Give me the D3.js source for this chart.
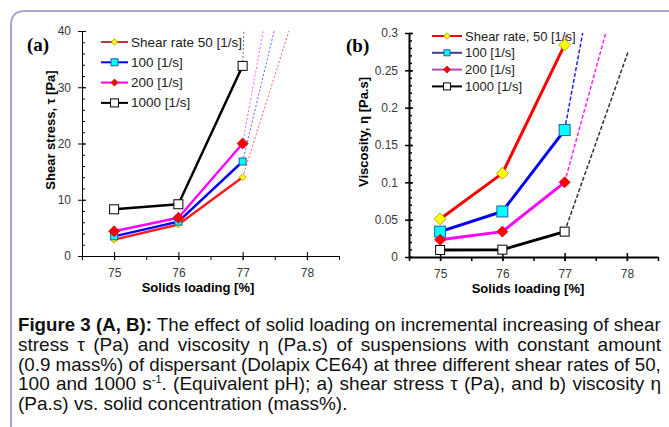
<!DOCTYPE html>
<html>
<head>
<meta charset="utf-8">
<script src="https://cdn.jsdelivr.net/npm/d3@7"></script>
<style>
  body { margin: 0; background: #fff; }
  svg { display: block; }
  text { font-family: "Liberation Sans", Arial, sans-serif; }
</style>
</head>
<body>
<svg id="chart" width="669" height="427"></svg>
<script>
// solids loading [%]
const loading = [75, 76, 77];
const rates = ["50", "100", "200", "1000"];

// (a) shear stress [Pa]
const stress50 = [2.9, 5.6, 14.0];
const stress100 = [3.5, 6.1, 16.8];
const stress200 = [4.4, 6.8, 20.0];
const stress1000 = [8.3, 9.2, 33.8];
// extrapolated end points [loading, stress]
const stressExt = [[77.72, 40], [77.49, 40], [77.32, 40], [77.02, 40]];

// (b) viscosity [Pa.s]
const visc50 = [0.051, 0.112, 0.284];
const visc100 = [0.034, 0.061, 0.170];
const visc200 = [0.023, 0.034, 0.100];
const visc1000 = [0.0094, 0.0098, 0.034];
const viscExt = [[77.03, 0.3], [77.29, 0.3], [77.66, 0.3], [78.02, 0.275]];

const legendA = ["Shear rate 50 [1/s]", "100 [1/s]", "200 [1/s]", "1000 [1/s]"];
const legendB = ["Shear rate, 50 [1/s]", "100 [1/s]", "200 [1/s]", "1000 [1/s]"];

const xTicks = [75, 76, 77, 78];
const yTicksA = [0, 10, 20, 30, 40];
const yTicksB = [0, 0.05, 0.1, 0.15, 0.2, 0.25, 0.3];

const caption = [
  [["Figure 3 (A, B):", true], [" The effect of solid loading on incremental increasing of shear", false]],
  [["stress \u03c4 (Pa) and viscosity \u03b7 (Pa.s) of suspensions with constant amount", false]],
  [["(0.9 mass%) of dispersant (Dolapix CE64) at three different shear rates of 50,", false]],
  [["100 and 1000 s", false], ["-1", "sup"], [". (Equivalent pH); a) shear stress \u03c4 (Pa), and b) viscosity \u03b7", false]],
  [["(Pa.s) vs. solid concentration (mass%).", false]]
];

const svg = d3.select("#chart");

// frame
svg.append("path")
  .attr("d", "M11,427 L11,25 Q11,11 25,11 L669,11")
  .attr("fill", "none")
  .attr("stroke", "#aaa7cd")
  .attr("stroke-width", 2);

const panels = [
  {
    tag: "(a)", tagX: 27, tagY: 51,
    x: d3.scaleLinear().domain([74.5, 78.5]).range([82, 339]),
    y: d3.scaleLinear().domain([0, 40]).range([256, 31]),
    yTicks: yTicksA, yMinor: d3.range(0, 41, 2), yFmt: d3.format("d"),
    yTitle: "Shear stress, \u03c4 [Pa]", yTitleX: 50, yTitleY: 130,
    xTitleX: 198, axisW: 1,
    series: [stress50, stress100, stress200, stress1000], ext: stressExt,
    lineColors: ["#ff1a1a", "#0000ff", "#ff00ff", "#000000"],
    legColors: ["#b23a3a", "#0000ff", "#ff00ff", "#000000"],
    extColors: ["#ff6060", "#6060ff", "#ff60ff", "#666666"],
    extDash: "2,2", extW: 1,
    sizes: [3.5, 7, 5.5, 9], legSizes: [3.2, 7, 3.5, 8],
    legend: legendA, legX: 101, legY: 42, legStep: 20.3, legLen: 27, legFont: 13.5,
    lineW: 2.4
  },
  {
    tag: "(b)", tagX: 346, tagY: 52,
    x: d3.scaleLinear().domain([74.5, 78.5]).range([409, 658]),
    y: d3.scaleLinear().domain([0, 0.3]).range([257, 33]),
    yTicks: yTicksB, yMinor: d3.range(0, 0.301, 0.01), yFmt: d => d === 0 ? "0" : String(+d.toFixed(2)),
    yTitle: "Viscosity, \u03b7 [Pa.s]", yTitleX: 363, yTitleY: 132,
    xTitleX: 528, axisW: 2,
    series: [visc50, visc100, visc200, visc1000], ext: viscExt,
    lineColors: ["#ff0000", "#0000ff", "#ff00ff", "#000000"],
    legColors: ["#ff0000", "#3c3c96", "#b24ab2", "#000000"],
    extColors: ["#ff4040", "#2020ff", "#ff20ff", "#333333"],
    extDash: "4,2", extW: 1.5,
    sizes: [6, 11, 5.5, 9], legSizes: [3.2, 6, 3.5, 7],
    legend: legendB, legX: 432, legY: 36, legStep: 16.8, legLen: 30, legFont: 13,
    lineW: 3
  }
];

const fills = ["#ffff00", "#00ffff", "#ff0000", "#ffffff"];
const strokes = ["#999900", "#2060a0", "#cc0000", "#000000"];
const shapes = ["diamond", "square", "diamond", "square"];

function marker(g, shape, cx, cy, s, fill, stroke) {
  if (shape === "square") {
    g.append("rect")
      .attr("x", cx - s / 2).attr("y", cy - s / 2)
      .attr("width", s).attr("height", s)
      .attr("fill", fill).attr("stroke", stroke).attr("stroke-width", 1);
  } else {
    g.append("path")
      .attr("d", `M${cx},${cy - s}L${cx + s},${cy}L${cx},${cy + s}L${cx - s},${cy}Z`)
      .attr("fill", fill).attr("stroke", stroke).attr("stroke-width", 0.8);
  }
}

panels.forEach(p => {
  const g = svg.append("g");
  const [x0] = p.x.range();
  const yb = p.y.range()[0];
  const tickW = p.axisW === 2 ? 1.5 : 1;

  // tag
  g.append("text")
    .attr("x", p.tagX).attr("y", p.tagY)
    .style("font-family", "'Liberation Serif', 'Times New Roman', serif")
    .style("font-weight", "bold").style("font-size", "19px")
    .text(p.tag);

  // y axis minor ticks (inside)
  g.append("g")
    .attr("transform", `translate(${x0},0)`)
    .call(d3.axisRight(p.y).tickValues(p.yMinor).tickSize(3).tickSizeOuter(0).tickFormat(""))
    .call(a => a.select(".domain").remove())
    .call(a => a.selectAll("line").attr("stroke-width", tickW));

  // y axis major
  g.append("g")
    .attr("transform", `translate(${x0},0)`)
    .call(d3.axisLeft(p.y).tickValues(p.yTicks).tickSizeInner(4).tickSizeOuter(0).tickPadding(7).tickFormat(p.yFmt))
    .call(a => a.select(".domain").attr("stroke-width", p.axisW))
    .call(a => a.selectAll(".tick line").attr("x1", 4).attr("stroke-width", tickW))
    .call(a => a.selectAll("text").attr("fill", "#3a3a3a")
      .style("font-size", "12px").style("font-family", "'Liberation Sans', Arial, sans-serif"));

  // x axis half ticks
  g.append("g")
    .attr("transform", `translate(0,${yb})`)
    .call(d3.axisBottom(p.x).tickValues(d3.range(74.5, 78.51, 0.5)).tickSize(4).tickSizeOuter(0).tickFormat(""))
    .call(a => a.select(".domain").remove())
    .call(a => a.selectAll("line").attr("stroke-width", tickW));

  // x axis major
  g.append("g")
    .attr("transform", `translate(0,${yb})`)
    .call(d3.axisBottom(p.x).tickValues(xTicks).tickSizeInner(4).tickSizeOuter(0).tickPadding(8).tickFormat(d3.format("d")))
    .call(a => a.select(".domain").attr("stroke-width", p.axisW))
    .call(a => a.selectAll(".tick line").attr("y1", -4).attr("stroke-width", tickW))
    .call(a => a.selectAll("text").attr("fill", "#3a3a3a")
      .style("font-size", "12px").style("font-family", "'Liberation Sans', Arial, sans-serif"));

  // axis titles
  g.append("text")
    .attr("x", p.xTitleX).attr("y", yb + 36)
    .attr("text-anchor", "middle")
    .style("font-weight", "bold").style("font-size", "13px")
    .text("Solids loading [%]");
  g.append("text")
    .attr("transform", `translate(${p.yTitleX + 5},${p.yTitleY}) rotate(-90)`)
    .attr("text-anchor", "middle")
    .style("font-weight", "bold").style("font-size", "13px")
    .text(p.yTitle);

  const line = d3.line().x(d => p.x(d[0])).y(d => p.y(d[1]));

  // dashed extrapolations
  p.series.forEach((s, i) => {
    g.append("path")
      .attr("d", line([[loading[2], s[2]], p.ext[i]]))
      .attr("fill", "none")
      .attr("stroke", p.extColors[i])
      .attr("stroke-width", p.extW)
      .attr("stroke-dasharray", p.extDash);
  });

  // measured lines
  p.series.forEach((s, i) => {
    g.append("path")
      .attr("d", line(s.map((v, j) => [loading[j], v])))
      .attr("fill", "none")
      .attr("stroke", p.lineColors[i])
      .attr("stroke-width", p.lineW)
      .attr("stroke-linejoin", "round");
  });

  // markers
  p.series.forEach((s, i) => {
    s.forEach((v, j) => marker(g, shapes[i], p.x(loading[j]), p.y(v), p.sizes[i], fills[i], strokes[i]));
  });

  // legend
  rates.forEach((r, i) => {
    const ly = p.legY + i * p.legStep;
    g.append("line")
      .attr("x1", p.legX).attr("x2", p.legX + p.legLen)
      .attr("y1", ly).attr("y2", ly)
      .attr("stroke", p.legColors[i]).attr("stroke-width", 2);
    marker(g, shapes[i], p.legX + p.legLen / 2, ly, p.legSizes[i], fills[i], strokes[i]);
    g.append("text")
      .attr("x", p.legX + p.legLen + 3).attr("y", ly + 4.5)
      .style("font-size", p.legFont + "px")
      .attr("fill", "#222")
      .text(p.legend[i]);
  });
});

// caption: justified lines, glyphs squeezed horizontally like a narrow face
const capX0 = 18, capX1 = 661, capLastX1 = 384, capY = 331, capStep = 19.8;
caption.forEach((parts, li) => {
  const t = svg.append("text")
    .attr("x", 0).attr("y", 0)
    .style("font-size", "19px")
    .attr("fill", "#111");
  parts.forEach(([str, kind], k) => {
    const ts = t.append("tspan").text(str);
    if (kind === true) ts.style("font-weight", "bold");
    if (kind === "sup") ts.attr("dy", -7).style("font-size", "11px");
    if (k > 0 && parts[k - 1][1] === "sup") ts.attr("dy", 7);
  });
  const last = li === caption.length - 1;
  const target = (last ? capLastX1 : capX1) - capX0;
  const w = t.node().getComputedTextLength();
  const sx = Math.min(1, target / w);
  if (!last && w < target) {
    const spaces = parts.map(d => d[0]).join("").split(" ").length - 1;
    t.style("word-spacing", ((target - w) / spaces) + "px");
  }
  t.attr("transform", `translate(${capX0},${capY + li * capStep}) scale(${sx},1)`);
});
</script>
</body>
</html>
